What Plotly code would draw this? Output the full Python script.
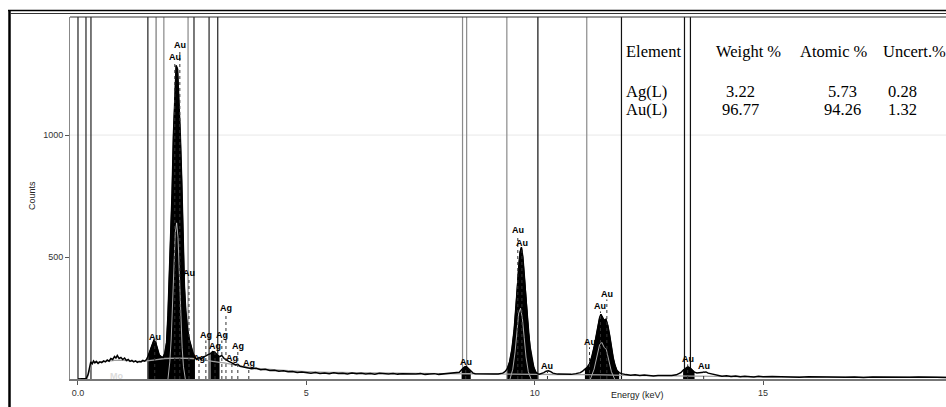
import numpy as np
import plotly.graph_objects as go

# ---------------- data ----------------
energy_kev = [
    0.00, 0.10, 0.18, 0.22, 0.25, 0.28, 0.31, 0.34, 0.37, 0.40, 0.44, 0.48, 0.52, 0.56, 0.60,
    0.64, 0.68, 0.72, 0.76, 0.80, 0.83, 0.86, 0.90, 0.94, 0.98, 1.02, 1.06, 1.10, 1.14, 1.18,
    1.22, 1.26, 1.30, 1.34, 1.38, 1.42, 1.46, 1.50, 1.54, 1.58, 1.62, 1.66, 1.70, 1.74, 1.78,
    1.82, 1.86, 1.90, 1.94, 1.97, 2.00, 2.03, 2.06, 2.09, 2.12, 2.15, 2.18, 2.21, 2.24, 2.27,
    2.30, 2.33, 2.36, 2.40, 2.44, 2.48, 2.52, 2.56, 2.60, 2.65, 2.70, 2.75, 2.80, 2.85, 2.90,
    2.95, 3.00, 3.05, 3.10, 3.15, 3.20, 3.25, 3.30, 3.35, 3.40, 3.45, 3.50, 3.55, 3.60, 3.70,
    3.80, 3.90, 4.00, 4.10, 4.20, 4.30, 4.40, 4.50, 4.60, 4.70, 4.80, 4.90, 5.00, 5.10, 5.20,
    5.30, 5.40, 5.50, 5.60, 5.70, 5.80, 5.90, 6.00, 6.10, 6.20, 6.30, 6.40, 6.50, 6.60, 6.70,
    6.80, 6.90, 7.00, 7.10, 7.20, 7.30, 7.40, 7.50, 7.60, 7.70, 7.80, 7.90, 8.00, 8.10, 8.20,
    8.30, 8.35, 8.40, 8.45, 8.50, 8.55, 8.60, 8.65, 8.70, 8.80, 8.90, 9.00, 9.10, 9.20, 9.30,
    9.35, 9.40, 9.45, 9.50, 9.55, 9.59, 9.62, 9.65, 9.68, 9.71, 9.74, 9.77, 9.80, 9.83, 9.86,
    9.90, 9.94, 9.98, 10.02, 10.06, 10.10, 10.15, 10.20, 10.25, 10.30, 10.35, 10.40, 10.50, 10.60, 10.70,
    10.80, 10.90, 11.00, 11.05, 11.10, 11.15, 11.20, 11.25, 11.30, 11.34, 11.38, 11.42, 11.45, 11.48, 11.52,
    11.56, 11.60, 11.64, 11.68, 11.72, 11.76, 11.80, 11.85, 11.90, 12.00, 12.10, 12.20, 12.30, 12.40, 12.50,
    12.60, 12.70, 12.80, 12.90, 13.00, 13.10, 13.20, 13.25, 13.30, 13.35, 13.40, 13.45, 13.50, 13.55, 13.60,
    13.65, 13.70, 13.75, 13.80, 13.90, 14.00, 14.10, 14.20, 14.30, 14.40, 14.50, 14.60, 14.70, 14.80, 14.90,
    15.00, 15.20, 15.40, 15.60, 15.80, 16.00, 16.20, 16.40, 16.60, 16.80, 17.00, 17.20, 17.40, 17.60, 17.80,
    18.00, 18.20, 18.40, 18.60, 18.80, 19.00, 19.20,
]
counts = [
    0, 0, 2, 18, 45, 70, 62, 74, 66, 72, 64, 70, 67, 74, 70,
    78, 73, 84, 80, 92, 86, 96, 84, 88, 80, 86, 76, 80, 72, 76,
    70, 74, 68, 72, 70, 76, 73, 80, 96, 118, 140, 158, 150, 118, 98,
    92, 88, 104, 150, 260, 420, 570, 760, 1000, 1160, 1285, 1270, 1150, 1000, 820,
    560, 380, 280, 200, 160, 130, 105, 90, 80, 88, 82, 90, 96, 100, 104,
    112, 110, 98, 92, 96, 84, 76, 72, 68, 62, 58, 60, 52, 50, 46,
    42, 44, 38, 40, 35, 36, 32, 34, 30, 31, 27, 29, 26, 24, 27,
    23, 25, 22, 26, 23, 24, 21, 25, 22, 24, 21, 23, 20, 24, 22,
    21, 23, 20, 22, 21, 23, 20, 22, 19, 21, 22, 19, 21, 20, 22,
    24, 28, 38, 48, 52, 42, 30, 24, 22, 21, 20, 22, 20, 21, 24,
    30, 42, 70, 120, 200, 300, 400, 470, 520, 540, 500, 430, 340, 260, 190,
    130, 80, 48, 30, 22, 20, 22, 26, 32, 34, 30, 24, 20, 19, 21,
    19, 22, 26, 32, 40, 48, 62, 90, 130, 170, 215, 250, 265, 255, 240,
    245, 220, 180, 130, 85, 55, 35, 26, 22, 18, 15, 17, 14, 16, 13,
    12, 14, 13, 15, 14, 17, 26, 36, 44, 50, 46, 36, 28, 25, 26,
    28, 30, 29, 24, 19, 14, 11, 13, 10, 12, 9, 11, 10, 8, 11,
    9, 10, 8, 9, 7, 9, 8, 7, 9, 7, 8, 6, 8, 7, 9,
    6, 7, 8, 6, 7, 6, 7,
]

# smooth continuum / total fit
fit_kev = [0.20, 0.26, 0.32, 0.50, 0.80, 1.00, 1.30, 1.60, 1.90, 2.50, 2.80, 3.20, 3.60, 4.00,
           5.00, 6.00, 7.00, 8.00, 9.00, 10.0, 11.0, 12.0, 13.0, 14.0, 15.0, 17.0, 19.2]
fit_counts = [0, 40, 66, 70, 76, 76, 72, 76, 84, 84, 76, 66, 52, 42,
              30, 26, 24, 22, 21, 19, 18, 15, 13, 11, 9, 8, 7]

# peak regions drawn as filled areas (start, end) in keV
peak_windows = [(1.52, 2.58), (2.86, 3.12), (8.38, 8.62), (9.38, 10.06),
                (11.08, 11.86), (13.22, 13.52)]

# fitted line components (light traces inside the peaks)
comp_m_kev = [1.97, 2.01, 2.04, 2.07, 2.10, 2.13, 2.16, 2.19, 2.22, 2.25, 2.28, 2.31, 2.35]
comp_m_counts = [0, 70, 160, 300, 470, 600, 640, 580, 430, 260, 130, 50, 0]
comp_la_kev = [9.46, 9.52, 9.57, 9.61, 9.65, 9.69, 9.73, 9.77, 9.81, 9.86, 9.92]
comp_la_counts = [0, 40, 110, 200, 270, 290, 250, 170, 90, 30, 0]
comp_lb_kev = [11.22, 11.30, 11.36, 11.42, 11.47, 11.52, 11.57, 11.62, 11.68, 11.75]
comp_lb_counts = [0, 40, 90, 140, 150, 130, 120, 80, 30, 0]

# region-of-interest marker energies
roi_kev = [0.0, 0.175, 0.284, 1.53, 1.71, 1.88, 2.41, 2.54, 2.87, 3.06,
           8.42, 8.51, 9.39, 10.07, 11.14, 11.90, 13.28, 13.41]

# peak identification labels
peak_labels = ["Au", "Au", "Au", "Au",
               "Ag", "Ag", "Ag", "Ag", "Ag", "Ag", "Ag", "Ag",
               "Au", "Au", "Au", "Au", "Au", "Au", "Au", "Au", "Au"]
peak_label_kev = [2.23, 2.12, 2.43, 1.68,
                  3.24, 2.80, 3.15, 3.00, 3.50, 2.65, 3.37, 3.74,
                  8.49, 9.63, 9.72, 10.28, 11.58, 11.44, 11.20, 13.35, 13.70]
peak_label_counts = [1369, 1320, 434, 172,
                     291, 180, 180, 135, 135, 86, 86, 66,
                     70, 611, 557, 53, 348, 299, 152, 82, 53]

# quantification table
table_header = ["Element", "Weight %", "Atomic %", "Uncert.%"]
table_elements = ["Ag(L)", "Au(L)"]
weight_pct = ["3.22", "96.77"]
atomic_pct = ["5.73", "94.26"]
uncert_pct = ["0.28", "1.32"]

# ---------------- layout helpers ----------------
W, H = 946, 407
Y_MAX = 1484


def px(x):
    return x / W


def py(y):
    return 1 - y / H


SANS = "Arial, Liberation Sans, Helvetica, sans-serif"
SERIF = "Times New Roman, Liberation Serif, serif"
roi_colors = ["#222", "#222", "#222", "#222", "#777", "#888", "#888", "#222", "#222", "#222",
              "#8a8a8a", "#8a8a8a", "#8a8a8a", "#111", "#8a8a8a", "#111", "#111", "#111"]

e = np.array(energy_kev)
c = np.array(counts)

fig = go.Figure()

# filled peak areas
for lo, hi in peak_windows:
    m = (e >= lo) & (e <= hi)
    fig.add_trace(go.Scatter(x=e[m], y=c[m], mode="lines", fill="tozeroy",
                             fillcolor="#000", line=dict(color="#000", width=1),
                             hoverinfo="skip", showlegend=False))

# fitted components
for ce, cc in [(comp_m_kev, comp_m_counts),
               (comp_la_kev, comp_la_counts),
               (comp_lb_kev, comp_lb_counts)]:
    fig.add_trace(go.Scatter(x=ce, y=cc, mode="lines", line=dict(color="#d8d8d8", width=0.8),
                             hoverinfo="skip", showlegend=False))

# continuum fit
fig.add_trace(go.Scatter(x=fit_kev, y=fit_counts, mode="lines",
                         line=dict(color="#a0a0a0", width=1.3, shape="spline"),
                         hoverinfo="skip", showlegend=False))

# measured spectrum
fig.add_trace(go.Scatter(x=energy_kev, y=counts, mode="lines",
                         line=dict(color="#000", width=1.5),
                         hoverinfo="skip", showlegend=False))

shapes = []
# ROI markers
for xv, col in zip(roi_kev, roi_colors):
    shapes.append(dict(type="line", xref="x", yref="y", x0=xv, x1=xv, y0=0, y1=Y_MAX,
                       line=dict(color=col, width=1.2), layer="below"))
# faint grid line
shapes.append(dict(type="line", xref="paper", yref="y", x0=px(70), x1=1, y0=1000, y1=1000,
                   line=dict(color="#e8e8e8", width=1), layer="below"))
# label leader lines
for xv, yv in zip(peak_label_kev, peak_label_counts):
    shapes.append(dict(type="line", xref="x", yref="y", x0=xv, x1=xv, y0=0, y1=yv - 22,
                       line=dict(color="#333", width=1, dash="dot")))
# plot top border
shapes.append(dict(type="line", xref="paper", yref="paper", x0=px(70), x1=1,
                   y0=py(17), y1=py(17), line=dict(color="#333", width=1)))
# outer frame
shapes.append(dict(type="line", xref="paper", yref="paper", x0=px(9.5), x1=px(9.5),
                   y0=py(10), y1=0, line=dict(color="#000", width=2.5)))
shapes.append(dict(type="line", xref="paper", yref="paper", x0=px(8), x1=1,
                   y0=py(10.5), y1=py(10.5), line=dict(color="#000", width=1.6)))
shapes.append(dict(type="line", xref="paper", yref="paper", x0=px(10), x1=1,
                   y0=py(13.5), y1=py(13.5), line=dict(color="#333", width=1)))

annotations = []
for t, xv, yv in zip(peak_labels, peak_label_kev, peak_label_counts):
    annotations.append(dict(x=xv, y=yv, xref="x", yref="y", text="<b>%s</b>" % t,
                            showarrow=False, font=dict(family=SANS, size=9, color="#000")))
annotations.append(dict(x=0.85, y=14, xref="x", yref="y", text="<b>Mo</b>", showarrow=False,
                        font=dict(family=SANS, size=9, color="#dcdcdc")))

# axis titles
annotations.append(dict(x=px(25), y=py(196), xref="paper", yref="paper", text="Counts",
                        textangle=-90, showarrow=False,
                        font=dict(family=SANS, size=9, color="#222")))
annotations.append(dict(x=px(666), y=py(402), xref="paper", yref="paper", text="Energy (keV)",
                        showarrow=False, font=dict(family=SANS, size=9, color="#222")))

# quantification table
tfont = dict(family=SERIF, size=16.5, color="#000")
annotations.append(dict(x=px(624), y=py(40), xref="paper", yref="paper", text=table_header[0],
                        xanchor="left", showarrow=False, font=tfont))
for txt, cx in zip(table_header[1:], [748, 834, 881]):
    annotations.append(dict(x=px(cx), y=py(40), xref="paper", yref="paper", text=txt,
                            xanchor="left" if cx == 881 else "center", showarrow=False, font=tfont))
for i, yrow in enumerate([80, 98]):
    annotations.append(dict(x=px(624), y=py(yrow), xref="paper", yref="paper",
                            text=table_elements[i], xanchor="left", showarrow=False, font=tfont))
    for col, cx in zip([weight_pct, atomic_pct, uncert_pct], [740, 842, 902]):
        annotations.append(dict(x=px(cx), y=py(yrow), xref="paper", yref="paper", text=col[i],
                                xanchor="center", showarrow=False, font=tfont))

fig.update_layout(
    width=W, height=H, margin=dict(l=0, r=0, t=0, b=0),
    paper_bgcolor="#fff", plot_bgcolor="#fff",
    showlegend=False, shapes=shapes, annotations=annotations,
    xaxis=dict(domain=[px(70), 1], range=[-0.175, 19.006], showgrid=False, zeroline=False,
               showline=True, linecolor="#777", linewidth=1.5,
               tickvals=[0, 5, 10, 15], ticktext=["0.0", "5", "10", "15"],
               ticks="outside", ticklen=4, tickcolor="#555",
               tickfont=dict(family=SANS, size=9, color="#333")),
    yaxis=dict(domain=[py(379), py(17)], range=[0, Y_MAX], showgrid=False, zeroline=False,
               showline=True, linecolor="#888", linewidth=1,
               tickvals=[500, 1000], ticks="outside", ticklen=4, tickcolor="#555",
               tickfont=dict(family=SANS, size=9, color="#333")),
)

fig.write_html("out.html")
